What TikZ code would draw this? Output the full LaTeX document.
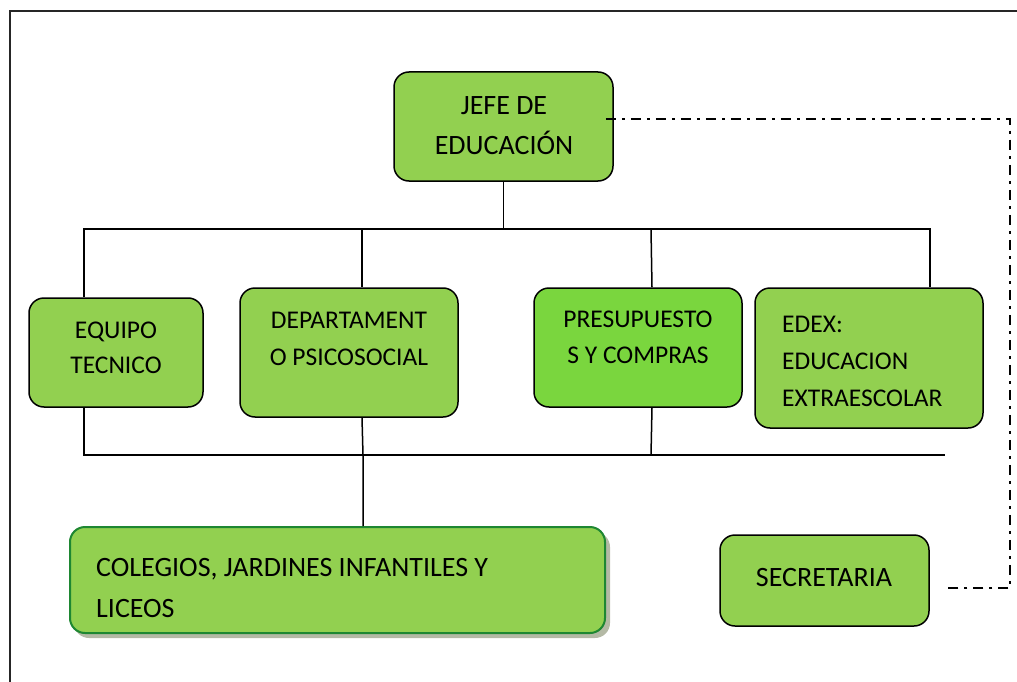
\documentclass[tikz,border=0pt]{standalone}
\usepackage{fontspec}
\setmainfont{Carlito}
\definecolor{lg}{RGB}{146,208,80}
\definecolor{bg}{RGB}{122,214,62}
\definecolor{dg}{RGB}{30,135,50}
\definecolor{shd}{RGB}{180,185,165}
\begin{document}
\begin{tikzpicture}[x=1pt,y=-1pt,
  box/.style={draw=black, line width=1.5pt, rounded corners=15pt, fill=lg, inner sep=0pt},
  lbl/.style={inner sep=0pt, font=\fontsize{25.5}{30}\selectfont},
  lblb/.style={inner sep=0pt, font=\fontsize{28}{33}\selectfont},
  conn/.style={line width=1.5pt, black},
  dd/.style={line width=1.7pt, black, dash pattern=on 10pt off 6pt on 3pt off 6pt}]
\useasboundingbox (0,0) rectangle (1017,682);
\draw[line width=2pt, black!85] (9.5,720) -- (9.5,11) -- (1040,11);
% boxes
\node[box, minimum width=219pt, minimum height=109pt] (jefe) at (503.5,126.5) {};
\node[box, minimum width=174pt, minimum height=109pt] (equipo) at (116,352.5) {};
\node[box, minimum width=218pt, minimum height=129pt] (depto) at (349,352.5) {};
\node[box, fill=bg, minimum width=208pt, minimum height=119pt] (presu) at (638,347.5) {};
\node[box, minimum width=228pt, minimum height=140pt] (edex) at (869,358) {};
\fill[shd, rounded corners=15pt] (74,532) rectangle (610,638);
\node[box, draw=dg, line width=2pt, minimum width=535pt, minimum height=106pt] (coleg) at (337.5,580) {};
\node[box, minimum width=209pt, minimum height=91pt] (secre) at (824.5,580.5) {};
% texts
\node[lblb, anchor=base] (t1a) at (504,115) {JEFE DE};
\node[lblb, anchor=base] (t1b) at (504,154) {EDUCACIÓN};
\node[lbl, anchor=base] (t2a) at (116,338) {EQUIPO};
\node[lbl, anchor=base] (t2b) at (116,373) {TECNICO};
\node[lbl, anchor=base] (t3a) at (349,328) {DEPARTAMENT};
\node[lbl, anchor=base] (t3b) at (349,365) {O PSICOSOCIAL};
\node[lbl, anchor=base] (t4a) at (638,327) {PRESUPUESTO};
\node[lbl, anchor=base] (t4b) at (638,363) {S Y COMPRAS};
\node[lbl, anchor=base west] (t5a) at (782,332) {EDEX:};
\node[lbl, anchor=base west] (t5b) at (782,369) {EDUCACION};
\node[lbl, anchor=base west] (t5c) at (782,406) {EXTRAESCOLAR};
\node[lblb, anchor=base west] (t6a) at (96,576) {COLEGIOS, JARDINES INFANTILES Y};
\node[lblb, anchor=base west] (t6b) at (96,617) {LICEOS};
\node[lblb, anchor=base] (t7) at (824,586) {SECRETARIA};
% connectors
\coordinate (bl) at (84,229);
\coordinate (br) at (930,229);
\coordinate (dtop) at (362,229);
\coordinate (ptop) at (651,229);
\coordinate (bbl) at (84,455);
\coordinate (bbr) at (945,455);
\coordinate (dbot) at (363,455);
\coordinate (pbot) at (651,455);
\draw[conn] (jefe.south) -- (jefe.south |- bl);
\draw[conn] (bl |- equipo.north) -- (bl) -- (br) -- (br |- edex.north);
\draw[conn] (dtop) -- (dtop |- depto.north);
\draw[conn] (ptop) -- ([xshift=1pt]ptop |- presu.north);
\draw[conn] (bbl |- equipo.south) -- (bbl) -- (bbr);
\draw[conn] (dtop |- depto.south) -- (dbot) -- (dbot |- coleg.north);
\draw[conn] ([xshift=1pt]ptop |- presu.south) -- (pbot);
% dash-dot link
\coordinate (dA) at (1010,119);
\coordinate (dB) at (1010,588);
\coordinate (dC) at (947,588);
\draw[dd] ([xshift=-8pt]jefe.east |- dA) -- (dA) -- (dB) -- (dC);
\end{tikzpicture}
\end{document}
